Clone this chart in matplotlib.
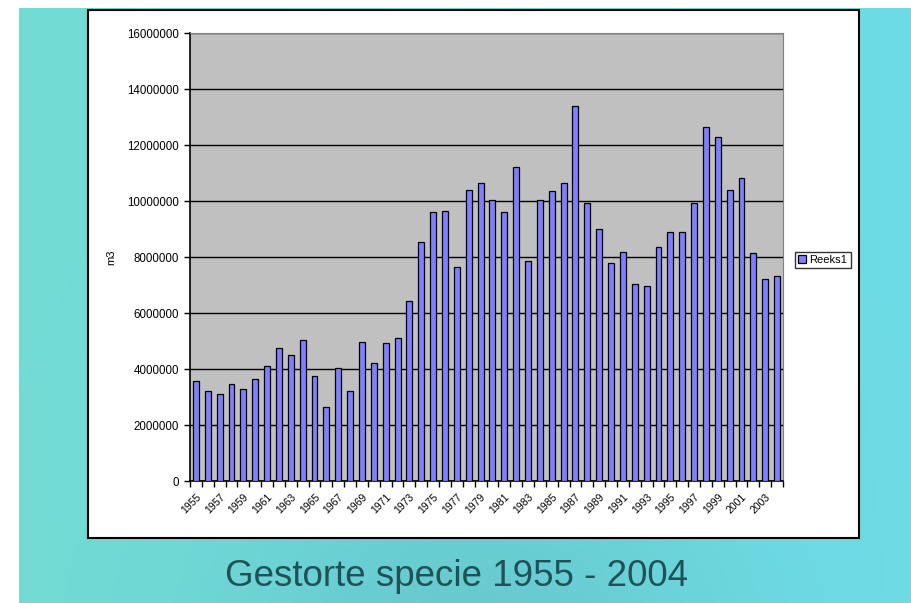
import matplotlib.pyplot as plt
import numpy as np
from matplotlib.patches import Rectangle

plt.rcParams["font.family"] = ["Liberation Sans", "DejaVu Sans"]

years = list(range(1955, 2005))
volumes = [
    3580000, 3230000, 3100000, 3460000, 3290000, 3640000, 4100000, 4740000, 4510000, 5030000,
    3740000, 2650000, 4040000, 3230000, 4970000, 4220000, 4920000, 5090000, 6440000, 8550000,
    9590000, 9650000, 7660000, 10410000, 10640000, 10050000, 9590000, 11230000, 7840000, 10050000,
    10350000, 10640000, 13380000, 9940000, 9000000, 7770000, 8190000, 7020000, 6960000, 8370000,
    8890000, 8890000, 9940000, 12630000, 12280000, 10410000, 10810000, 8130000, 7200000, 7310000,
]
yticks = list(range(0, 16000001, 2000000))
series_name = "Reeks1"
caption = "Gestorte specie 1955 - 2004"

W, H = 912, 603
fig = plt.figure(figsize=(W / 100, H / 100), dpi=100)
fig.patch.set_facecolor("white")

# slide background
bg = fig.add_axes([19 / W, 0, 1 - 19 / W, 1 - 8 / H])
gx = np.linspace(0, 1, 200)
gy = np.linspace(0, 1, 120)
X, Y = np.meshgrid(gx, gy)
c_left = np.array([0.45, 0.86, 0.83])
c_right = np.array([0.43, 0.86, 0.90])
c_dark = np.array([0.38, 0.75, 0.78])
img = c_left[None, None, :] * (1 - X[..., None]) + c_right[None, None, :] * X[..., None]
shade = np.exp(-((X - 0.5) ** 2) / 0.08) * np.clip(Y, 0, 1) ** 2 * 0.6
img = img * (1 - shade[..., None]) + c_dark[None, None, :] * shade[..., None]
bg.imshow(img, aspect="auto", extent=[0, 1, 0, 1], origin="upper")
bg.axis("off")

# white chart box
box = fig.add_axes([0, 0, 1, 1], facecolor="none")
box.set_xlim(0, W)
box.set_ylim(H, 0)
box.axis("off")
box.add_patch(Rectangle((88, 10), 771, 528, facecolor="white", edgecolor="black", linewidth=1.5))

ax = fig.add_axes([190 / W, 1 - 481 / H, 593 / W, 448 / H])
ax.set_facecolor("#C0C0C0")
x = np.arange(len(years))
bars = ax.bar(x, volumes, width=0.5, color="#8080FF", edgecolor="black", linewidth=0.9,
              label=series_name, zorder=3)
ax.set_xlim(-0.5, len(years) - 0.5)
ax.set_ylim(0, 16000000)
ax.set_yticks(yticks)
ax.set_yticklabels([str(v) for v in yticks], fontsize=8.3)
ax.yaxis.grid(True, color="black", linewidth=1, zorder=1)
ax.set_axisbelow(True)

ax.set_xticks(x[::2])
ax.set_xticklabels([str(y) for y in years[::2]], rotation=45, ha="right",
                   rotation_mode="anchor", fontsize=7.5)
ax.set_xticks(np.arange(-0.5, len(years)), minor=True)
ax.tick_params(axis="x", which="major", length=0, pad=8)
ax.tick_params(axis="x", which="minor", length=4, width=1, direction="out")
ax.tick_params(axis="y", length=4, width=1, direction="out", pad=4)

for side in ["top", "right"]:
    ax.spines[side].set_color("#808080")
for side in ["left", "bottom"]:
    ax.spines[side].set_color("black")
    ax.spines[side].set_linewidth(1.2)

ax.set_ylabel("m3", fontsize=8, labelpad=8)

leg = fig.legend(handles=[bars], labels=[series_name], loc="center left",
                 bbox_to_anchor=(795 / W, 1 - 260 / H), fontsize=8, frameon=True,
                 fancybox=False, edgecolor="black", handlelength=0.7, handleheight=0.7,
                 handletextpad=0.3, borderpad=0.3, borderaxespad=0)
leg.get_frame().set_linewidth(1)

fig.text(457 / W, 1 - 577 / H, caption, ha="center", va="center", fontsize=26.5, color="#1E5258")

fig.savefig("out.png", dpi=100)
